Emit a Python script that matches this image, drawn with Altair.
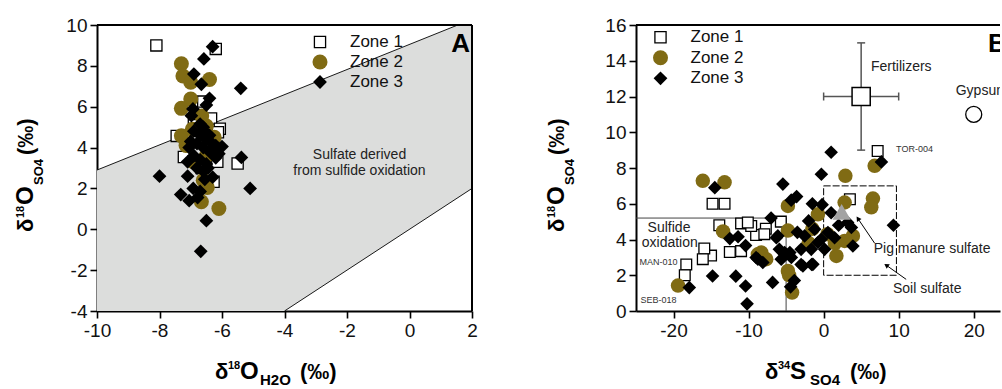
import altair as alt
import pandas as pd

FONT = "Liberation Sans"
OLIVE = "#806b14"
GRAY_FILL = "#dcdddc"

# ---------------- Panel A data (d18O_H2O, d18O_SO4) ----------------
a_zone1 = [[-8.1, 9.0], [-6.2, 8.83], [-7.45, 4.57], [-6.35, 5.42], [-6.07, 4.92], [-7.22, 3.54],
           [-6.15, 3.3], [-5.5, 3.22], [-6.27, 2.33], [-6.6, 6.25], [-6.9, 5.1], [-6.65, 3.0],
           [-6.85, 4.3], [-6.13, 4.75]]
a_zone2 = [[-7.3, 8.1], [-7.25, 7.5], [-7.0, 7.2], [-6.4, 7.33], [-7.0, 6.38], [-7.3, 5.92],
           [-6.65, 5.55], [-7.3, 4.58], [-7.15, 4.1], [-6.25, 4.5], [-6.5, 5.05], [-6.47, 2.05],
           [-6.6, 2.4], [-6.66, 1.35], [-6.1, 1.02], [-6.9, 3.3], [-6.5, 3.6], [-6.95, 4.9]]
a_zone3 = [[-6.3, 8.94], [-6.58, 8.34], [-6.9, 7.6], [-6.66, 7.1], [-5.4, 6.9], [-6.4, 6.41],
           [-6.5, 6.08], [-6.93, 5.89], [-6.98, 5.56], [-6.7, 5.15], [-5.38, 3.52], [-8.0, 2.6],
           [-7.1, 2.6], [-6.3, 2.55], [-6.55, 2.45], [-5.1, 2.0], [-7.32, 1.7], [-7.05, 1.4],
           [-6.78, 1.55], [-6.7, 1.85], [-6.92, 2.0], [-6.5, 0.42], [-6.68, -1.08],
           [-6.9, 4.8], [-6.7, 4.6], [-6.5, 4.4], [-6.8, 4.2], [-6.6, 4.0], [-6.4, 3.8],
           [-6.9, 3.6], [-6.7, 3.4], [-6.5, 3.2], [-6.2, 4.1], [-6.1, 3.7], [-6.3, 3.95],
           [-7.0, 4.3], [-6.6, 4.85], [-6.4, 4.6], [-6.8, 3.0], [-6.6, 2.85], [-7.1, 3.3],
           [-6.0, 4.05], [-6.2, 3.5], [-6.6, 5.0], [-7.05, 4.0], [-6.45, 3.0], [-6.35, 4.25]]

# sulfide-oxidation field: upper line y = a*x + b, lower line y = x
upper_slope, upper_icpt = 0.615, 9.05
lower_slope, lower_icpt = 1.0, 0.0
a_xdom, a_ydom = [-10, 2], [-4, 10]
a_xticks = [-10, -8, -6, -4, -2, 0, 2]
a_yticks = [-4, -2, 0, 2, 4, 6, 8, 10]

# ---------------- Panel B data (d34S_SO4, d18O_SO4) ----------------
b_zone1 = [[-14.8, 6.0], [-13.2, 6.0], [-13.9, 4.8], [-11.0, 4.9], [-9.0, 4.25], [-7.7, 4.6],
           [-9.65, 4.76], [-10.1, 4.95], [-15.0, 3.1], [-15.9, 3.5], [-16.1, 2.9], [-18.3, 2.6],
           [-18.5, 2.0], [-12.5, 3.3], [-11.0, 3.35], [-5.7, 5.0], [3.5, 6.25], [7.2, 8.95],
           [-7.9, 4.3]]
b_zone2 = [[-16.1, 7.28], [-13.2, 7.2], [-13.4, 4.45], [-19.4, 1.42], [-8.3, 3.27], [-7.65, 2.9],
           [-4.76, 4.5], [-4.76, 2.24], [-4.2, 1.03], [-4.76, 5.88], [2.9, 7.56], [6.57, 6.29],
           [6.35, 5.8], [1.7, 3.08], [2.8, 6.07], [3.9, 4.2], [2.8, 3.92], [-0.76, 5.41],
           [6.8, 8.12], [-8.76, 3.17], [1.5, 3.8], [-1.5, 4.6], [0.5, 4.3], [-2.0, 3.8], [-4.6, 2.0]]
b_zone3 = [[-14.5, 6.9], [-17.9, 1.31], [-14.8, 1.96], [-12.5, 4.05], [-11.4, 4.15], [-10.4, 3.66],
           [-11.7, 1.95], [-10.4, 1.4], [-10.2, 0.4], [-7.0, 5.2], [-9.0, 2.99], [-8.1, 2.71],
           [-6.8, 1.6], [-5.43, 7.1], [-4.32, 6.2], [-3.6, 6.4], [-6.3, 4.1], [-5.9, 3.45],
           [-4.5, 3.27], [-4.3, 3.0], [-3.9, 1.7], [-4.4, 1.35], [-0.3, 7.65], [1.0, 8.88],
           [-1.5, 6.0], [-0.2, 5.95], [-3.0, 2.6], [-1.6, 2.6], [-3.0, 3.45], [1.0, 5.5],
           [3.7, 4.67], [3.2, 4.95], [3.9, 3.64], [1.46, 4.1], [7.7, 8.34], [9.3, 4.8],
           [-8.76, 2.9], [-2.0, 5.04], [-1.2, 4.57], [-2.53, 4.2], [-0.76, 3.83], [-6.1, 4.2],
           [-5.2, 3.27], [-5.65, 2.9], [-0.32, 4.01], [0.57, 4.39], [-1.65, 3.45], [0.13, 3.45],
           [-1.43, 2.61], [-2.76, 2.52], [2.0, 4.8], [-3.5, 4.4]]
pig_manure = [[2.4, 5.55]]
fertilizer = {"x": 5.0, "y": 12.0, "xlo": 0.0, "xhi": 10.0, "ylo": 9.0, "yhi": 15.0}
gypsum = [[20.0, 11.0]]
sulfide_box = {"xlo": -25.0, "xhi": -5.0, "ylo": 0.0, "yhi": 5.2}
soil_box = {"xlo": 0.0, "xhi": 9.7, "ylo": 2.0, "yhi": 7.0}
b_xdom, b_ydom = [-25, 23.5], [0, 16]
b_xticks = [-20, -10, 0, 10, 20]
b_yticks = [0, 2, 4, 6, 8, 10, 12, 14, 16]

WA, HA = 375, 286
WB, HB = 364, 286
dummy = pd.DataFrame({"k": [0]})


def pts(pairs):
    return pd.DataFrame(pairs, columns=["x", "y"])


def axis(values, orient):
    return alt.Axis(values=values, orient=orient, title=None, grid=False,
                    labelExpr="'' + datum.value", labelFont=FONT, labelFontSize=19,
                    labelColor="#111", labelFlush=False, labelOverlap=False,
                    tickSize=7, tickWidth=1.6, tickColor="black",
                    domainColor="black", domainWidth=2, labelPadding=3)


def enc_factory(xdom, ydom, xt, yt):
    def X(field="x"):
        return alt.X(f"{field}:Q", scale=alt.Scale(domain=xdom, nice=False, zero=False),
                     axis=axis(xt, "bottom"))

    def Y(field="y"):
        return alt.Y(f"{field}:Q", scale=alt.Scale(domain=ydom, nice=False, zero=False),
                     axis=axis(yt, "left"))
    return X, Y


def txt(s, x, y, size, angle=0, bold=True, align="left", baseline="alphabetic", color="black", clip=False):
    return alt.Chart(dummy).mark_text(
        text=s, fontSize=size, fontWeight="bold" if bold else "normal", angle=angle,
        align=align, baseline=baseline, font=FONT, color=color, clip=clip
    ).encode(x=alt.value(x), y=alt.value(y))


def sym(shape, px, py, **kw):
    return alt.Chart(dummy).mark_point(shape=shape, opacity=1, **kw).encode(
        x=alt.value(px), y=alt.value(py))


def scatter_layers(X, Y, z1, z2, z3, sq=125, ci=225, di=190):
    s1 = alt.Chart(pts(z1)).mark_point(shape="square", filled=True, fill="white", stroke="black",
                                        strokeWidth=1.3, size=sq, opacity=1).encode(x=X(), y=Y())
    s2 = alt.Chart(pts(z2)).mark_point(shape="circle", filled=True, color=OLIVE, size=ci,
                                        opacity=1).encode(x=X(), y=Y())
    s3 = alt.Chart(pts(z3)).mark_point(shape="diamond", filled=True, color="black", size=di,
                                        opacity=1).encode(x=X(), y=Y())
    return [s1, s2, s3]


def legend_layers(sx, sy0, dy, tx):
    out = [
        sym("square", sx, sy0, filled=True, fill="white", stroke="black", strokeWidth=1.3, size=125),
        sym("circle", sx, sy0 + dy, filled=True, color=OLIVE, size=225),
        sym("diamond", sx, sy0 + 2 * dy, filled=True, color="black", size=190),
    ]
    for i, lab in enumerate(["Zone 1", "Zone 2", "Zone 3"]):
        out.append(txt(lab, tx, sy0 + i * dy, 17, bold=False, baseline="middle", color="#111"))
    return out


def x_title(x0, main, sub, base=354):
    # x0: left of the delta; pieces: delta, superscript, main letter, subscript, (permil)
    sup = "18" if main == "O" else "34"
    return [
        txt("δ", x0, base, 22), txt(sup, x0 + 13, base - 10, 11),
        txt(main, x0 + 25, base, 24), txt(sub, x0 + 45 if main == "O" else x0 + 45, base + 6, 15),
        txt("(‰)", x0 + 85, base, 22),
    ]


def y_title(bx, y0=207):
    # rotated title reading upwards, bx = baseline x of the main letters
    return [
        txt("δ", bx, y0, 22, angle=270), txt("18", bx - 9, y0 - 14, 11, angle=270),
        txt("O", bx, y0 - 27, 24, angle=270), txt("SO4", bx + 10, y0 - 47, 13, angle=270),
        txt("(‰)", bx, y0 - 77, 22, angle=270),
    ]


# ---------------- Panel A ----------------
XA, YA = enc_factory(a_xdom, a_ydom, a_xticks, a_yticks)
x_top = (a_ydom[1] - upper_icpt) / upper_slope
x_low = (a_ydom[0] - lower_icpt) / lower_slope
xs = [a_xdom[0], x_low, x_top, a_xdom[1]]
field_df = pd.DataFrame({
    "x": xs,
    "lo": [max(lower_slope * v + lower_icpt, a_ydom[0]) for v in xs],
    "hi": [min(upper_slope * v + upper_icpt, a_ydom[1]) for v in xs],
})
shade = alt.Chart(field_df).mark_area(color=GRAY_FILL, opacity=1).encode(x=XA(), y=YA("lo"), y2="hi")
line_up = alt.Chart(pd.DataFrame({"x": [a_xdom[0], x_top],
                                  "y": [upper_slope * a_xdom[0] + upper_icpt, a_ydom[1]]})
                    ).mark_line(color="black", strokeWidth=0.9).encode(x=XA(), y=YA())
line_lo = alt.Chart(pd.DataFrame({"x": [x_low, a_xdom[1]],
                                  "y": [a_ydom[0], lower_slope * a_xdom[1] + lower_icpt]})
                    ).mark_line(color="black", strokeWidth=0.9).encode(x=XA(), y=YA())
note_a = alt.Chart(pd.DataFrame({"x": [-1.6, -1.6], "y": [3.66, 2.86],
                                 "t": ["Sulfate derived", "from sulfide oxidation"]})
                   ).mark_text(font=FONT, fontSize=14, color="#222").encode(x=XA(), y=YA(), text="t:N")
border_a = [
    alt.Chart(dummy).mark_rule(color="black", strokeWidth=2).encode(
        x=alt.value(0), x2=alt.value(WA), y=alt.value(0)),
    alt.Chart(dummy).mark_rule(color="black", strokeWidth=2).encode(
        x=alt.value(WA), y=alt.value(0), y2=alt.value(HA)),
]
title_a = x_title(118, "O", "H2O") + y_title(-64) + [txt("A", 373, 27, 26, align="right")]
panel_a = alt.layer(
    shade, line_up, line_lo, *scatter_layers(XA, YA, a_zone1, a_zone2, a_zone3),
    note_a, *border_a, *legend_layers(223, 17, 20, 253), *title_a,
).properties(width=WA, height=HA)

# ---------------- Panel B ----------------
XB, YB = enc_factory(b_xdom, b_ydom, b_xticks, b_yticks)
sbox = pd.DataFrame([sulfide_box])
sulf_h = alt.Chart(sbox).mark_rule(color="#444", strokeWidth=1).encode(x=XB("xlo"), x2="xhi", y=YB("yhi"))
sulf_v = alt.Chart(sbox).mark_rule(color="#444", strokeWidth=1).encode(x=XB("xhi"), y=YB("ylo"), y2="yhi")
soil = alt.Chart(pd.DataFrame([soil_box])).mark_rect(
    fillOpacity=0, stroke="black", strokeWidth=1, strokeDash=[7, 2]
).encode(x=XB("xlo"), x2="xhi", y=YB("ylo"), y2="yhi")
fdf = pd.DataFrame([fertilizer])
fert_h = alt.Chart(fdf).mark_rule(color="#555", strokeWidth=1.5).encode(x=XB("xlo"), x2="xhi", y=YB("y"))
fert_v = alt.Chart(fdf).mark_rule(color="#555", strokeWidth=1.5).encode(x=XB("x"), y=YB("ylo"), y2="yhi")
cap_v = alt.Chart(pd.DataFrame({"x": [fertilizer["xlo"], fertilizer["xhi"]],
                                "y": [fertilizer["y"]] * 2})).mark_point(
    shape="stroke", angle=90, size=64, stroke="#555", strokeWidth=1.5, opacity=1).encode(x=XB(), y=YB())
cap_h = alt.Chart(pd.DataFrame({"x": [fertilizer["x"]] * 2,
                                "y": [fertilizer["ylo"], fertilizer["yhi"]]})).mark_point(
    shape="stroke", angle=0, size=64, stroke="#555", strokeWidth=1.5, opacity=1).encode(x=XB(), y=YB())
fert_sq = alt.Chart(fdf).mark_point(shape="square", filled=True, fill="white", stroke="black",
                                    strokeWidth=1.5, size=330, opacity=1).encode(x=XB(), y=YB())
gyp = alt.Chart(pts(gypsum)).mark_point(shape="circle", filled=True, fill="white", stroke="black",
                                        strokeWidth=1.3, size=256, opacity=1, clip=True).encode(x=XB(), y=YB())
pig = alt.Chart(pts(pig_manure)).mark_point(shape="triangle-up", filled=True, color="#a3a3a3",
                                            size=330, opacity=1).encode(x=XB(), y=YB())
arrows = pd.DataFrame({"x": [6.8, 11.0], "y": [3.79, 1.77], "x2": [4.57, 8.35], "y2": [5.17, 2.56],
                       "ang": [326, 305]})
arrow_lines = alt.Chart(arrows).mark_rule(color="black", strokeWidth=1).encode(
    x=XB(), y=YB(), x2="x2", y2="y2")
arrow_heads = alt.Chart(arrows).mark_point(shape="triangle-up", filled=True, color="black",
                                           size=30, opacity=1).encode(
    x=XB("x2"), y=YB("y2"), angle=alt.Angle("ang:Q", scale=None))
notes_center = alt.Chart(pd.DataFrame({
    "x": [-20.6, -20.5, 14.45, 13.8],
    "y": [4.67, 3.83, 3.45, 1.21],
    "t": ["Sulfide", "oxidation", "Pig manure sulfate", "Soil sulfate"],
})).mark_text(font=FONT, fontSize=14, color="#222", clip=True).encode(x=XB(), y=YB(), text="t:N")
notes_left = alt.Chart(pd.DataFrame({
    "x": [6.3, 17.6],
    "y": [13.66, 12.33],
    "t": ["Fertilizers", "Gypsum"],
})).mark_text(font=FONT, fontSize=14, color="#222", align="left", clip=True).encode(
    x=XB(), y=YB(), text="t:N")
samples_c = alt.Chart(pd.DataFrame({
    "x": [-22.0, -22.0], "y": [2.74, 0.62], "t": ["MAN-010", "SEB-018"],
})).mark_text(font=FONT, fontSize=9, color="#333").encode(x=XB(), y=YB(), text="t:N")
samples_l = alt.Chart(pd.DataFrame({
    "x": [9.65], "y": [9.05], "t": ["TOR-004"],
})).mark_text(font=FONT, fontSize=9, color="#333", align="left").encode(x=XB(), y=YB(), text="t:N")
top_b = alt.Chart(dummy).mark_rule(color="black", strokeWidth=2).encode(
    x=alt.value(0), x2=alt.value(WB), y=alt.value(0))
title_b = x_title(129, "S", "SO4") + y_title(-72) + [txt("B", 352, 27, 26, clip=True)]
panel_b = alt.layer(
    sulf_h, sulf_v, soil, fert_h, fert_v, cap_v, cap_h, fert_sq, gyp,
    *scatter_layers(XB, YB, b_zone1, b_zone2, b_zone3, sq=115, ci=210, di=185),
    pig, arrow_lines, arrow_heads, notes_center, notes_left, samples_c, samples_l, top_b,
    *legend_layers(24.5, 12.3, 20.5, 54.5), *title_b,
).properties(width=WB, height=HB)

chart = alt.hconcat(panel_a, panel_b, spacing=164, bounds="flush").resolve_scale(
    x="independent", y="independent"
).properties(
    padding={"left": 14, "top": 16, "right": 0, "bottom": 0},
    background="white",
).configure_view(stroke=None)

chart.save("out.html", embed_options={"renderer": "svg", "actions": False})
